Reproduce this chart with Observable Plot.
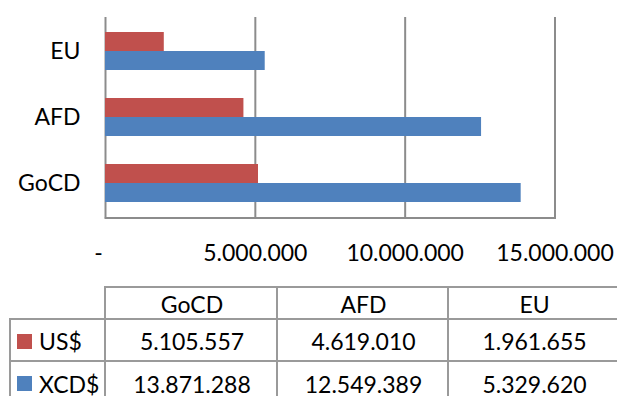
<!DOCTYPE html>
<html><head><meta charset="utf-8">
<script src="https://cdn.jsdelivr.net/npm/d3@7"></script>
<script src="https://cdn.jsdelivr.net/npm/@observablehq/plot@0.6"></script>
<style>
body{margin:0;background:#fff;font-family:Lato,sans-serif;}
#wrap{position:relative;width:617px;height:396px;overflow:hidden;background:#fff;}
#chart{position:absolute;left:0;top:0;}
.cell{position:absolute;box-sizing:border-box;border-left:2px solid #9a9a9a;border-top:2px solid #9a9a9a;display:flex;align-items:center;justify-content:center;font-size:23px;color:#000;white-space:nowrap;}
.lab{justify-content:flex-start;padding-left:6px;}
.key{display:inline-block;width:15px;height:15px;margin-right:7px;}
</style></head><body><div id="wrap"><div id="chart"></div><div id="tbl"></div></div>
<script>
const categories = ["GoCD", "AFD", "EU"];
const seriesNames = ["US$", "XCD$"];
const usd = [5105557, 4619010, 1961655];
const xcd = [13871288, 12549389, 5329620];
const xTicks = [0, 5000000, 10000000, 15000000];
const colors = ["#C0504D", "#4F81BD"];

const fmt = d3.formatLocale({decimal: ",", thousands: ".", grouping: [3], currency: ["", ""]}).format(",d");
const seriesValues = [usd, xcd];
const data = categories.flatMap((c, i) => seriesNames.map((s, j) => ({cat: c, series: s, value: seriesValues[j][i]})));

const plot = Plot.plot({
  width: 617,
  height: 280,
  marginLeft: 105,
  marginRight: 62.5,
  marginTop: 17,
  marginBottom: 62.5,
  style: {fontFamily: "Lato, sans-serif", fontSize: "23px", color: "#000", background: "#fff"},
  x: {domain: [0, 15000000]},
  y: {domain: ["EU", "AFD", "GoCD"], paddingInner: 0.43, paddingOuter: 0.215},
  marks: [
    Plot.ruleX(xTicks, {stroke: "#8c8c8c", strokeWidth: 2}),
    Plot.frame({anchor: "bottom", stroke: "#8c8c8c", strokeWidth: 2}),
    Plot.barX(data.filter(d => d.series === seriesNames[0]), {x: "value", y: "cat", fill: colors[0], insetBottom: 19}),
    Plot.barX(data.filter(d => d.series === seriesNames[1]), {x: "value", y: "cat", fill: colors[1], insetTop: 19}),
    Plot.axisY({tickSize: 0, tickPadding: 25, fontSize: 23, label: null}),
    Plot.axisX([0], {tickSize: 0, tickPadding: 27, dx: -7, tickFormat: () => "-", fontSize: 23, label: null}),
    Plot.axisX(xTicks.slice(1), {tickSize: 0, tickPadding: 27, tickFormat: fmt, fontSize: 23, label: null})
  ]
});
document.getElementById("chart").appendChild(plot);

// data table
const xs = [10, 105, 277, 448, 619];
const ys = [287, 319, 361, 404];
const tbl = document.getElementById("tbl");
function cell(x0, x1, y0, y1, html, cls) {
  const d = document.createElement("div");
  d.className = "cell" + (cls ? " " + cls : "");
  d.style.left = (x0 - 1) + "px";
  d.style.top = (y0 - 1) + "px";
  d.style.width = (x1 - x0 + 2) + "px";
  d.style.height = (y1 - y0 + 2) + "px";
  d.innerHTML = html;
  tbl.appendChild(d);
}
categories.forEach((c, i) => cell(xs[i + 1], xs[i + 2], ys[0], ys[1], c));
seriesNames.forEach((s, j) => {
  cell(xs[0], xs[1], ys[j + 1], ys[j + 2], `<span class="key" style="background:${colors[j]}"></span>${s}`, "lab");
  categories.forEach((c, i) => cell(xs[i + 1], xs[i + 2], ys[j + 1], ys[j + 2], fmt(seriesValues[j][i])));
});
</script></body></html>
